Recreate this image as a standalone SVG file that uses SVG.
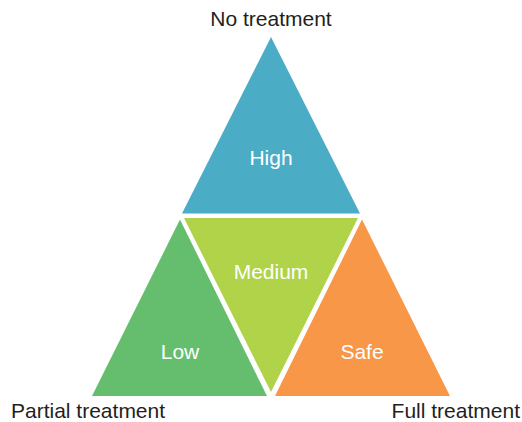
<svg xmlns="http://www.w3.org/2000/svg" width="522" height="422" viewBox="0 0 522 422">
<style>
.lbl{font-family:"Liberation Sans",Arial,sans-serif;font-size:21px;fill:#231f20}
.in{font-family:"Liberation Sans",Arial,sans-serif;font-size:21px;fill:#ffffff;text-anchor:middle}
</style>
<rect width="522" height="422" fill="#ffffff"/>
<g id="high">
<polygon points="271,37 360,213.5 182,213.5" fill="#4BACC6"/>
<text class="in" x="271" y="165">High</text>
</g>
<g id="medium">
<polygon points="184,218 358,218 271,392" fill="#B0D34A"/>
<text class="in" x="271" y="279">Medium</text>
</g>
<g id="low">
<polygon points="180,219.5 267,396 92,396" fill="#64BE6E"/>
<text class="in" x="180" y="359">Low</text>
</g>
<g id="safe">
<polygon points="362,219.5 450,396 275,396" fill="#F79747"/>
<text class="in" x="362" y="359">Safe</text>
</g>
<g id="labels">
<text class="lbl" x="271" y="26" text-anchor="middle">No treatment</text>
<text class="lbl" x="11" y="418">Partial treatment</text>
<text class="lbl" x="520" y="418" text-anchor="end">Full treatment</text>
</g>
<g id="connectors"></g>
</svg>
